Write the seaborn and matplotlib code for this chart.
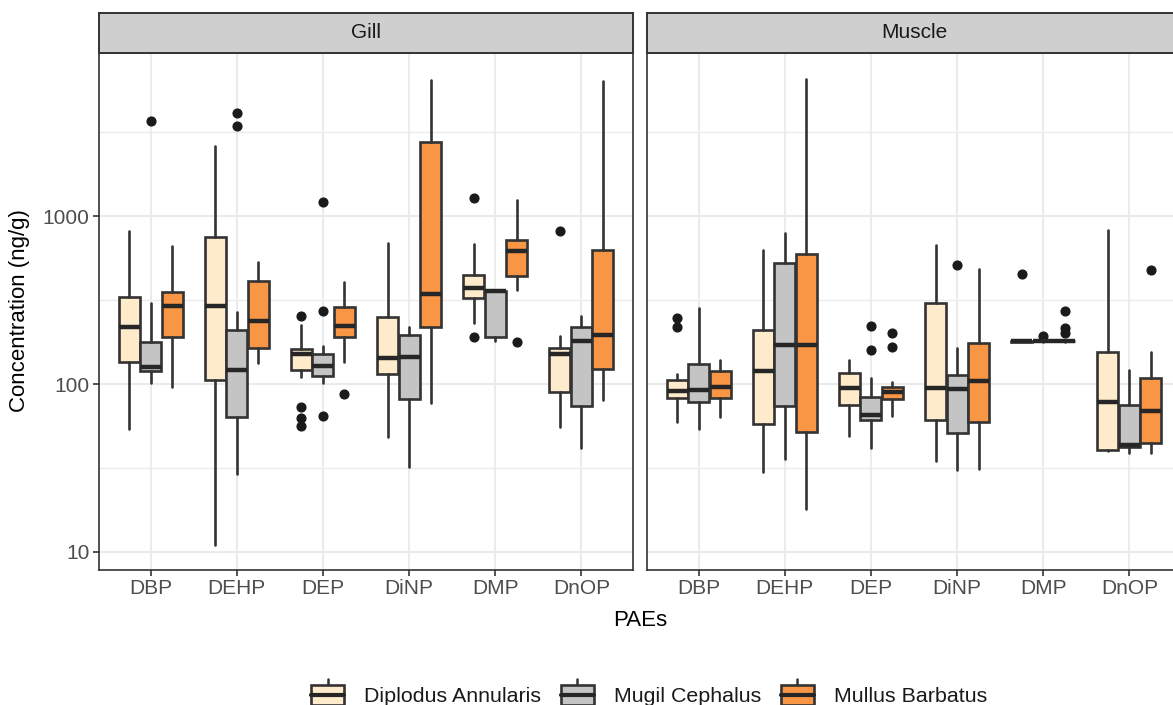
import matplotlib
matplotlib.use("Agg")
import numpy as np
import pandas as pd
import seaborn as sns
import matplotlib.pyplot as plt
from matplotlib.patches import Rectangle
from matplotlib.lines import Line2D
from matplotlib.legend_handler import HandlerBase
from matplotlib.ticker import FixedLocator, NullFormatter

# ---------------- data ----------------
tissues = ["Gill", "Muscle"]
paes = ["DBP", "DEHP", "DEP", "DiNP", "DMP", "DnOP"]
species = ["Diplodus Annularis", "Mugil Cephalus", "Mullus Barbatus"]
species_colors = ["#FEEBCB", "#C4C4C4", "#F99646"]

# order of each list follows `paes`
# ---- Gill ----
gill_diplodus_lo = [54, 10.9, 110.6, 48, 230, 55.6]
gill_diplodus_q1 = [135, 105.6, 121, 114.7, 324, 90]
gill_diplodus_med = [220, 293, 150, 143, 375, 151]
gill_diplodus_q3 = [332, 753, 161, 252, 445, 164.6]
gill_diplodus_hi = [817, 2636, 225, 690, 684, 193]
gill_diplodus_out = [[], [], [255, 73.2, 63, 56.4], [], [1291, 191], [820]]

gill_mugil_lo = [101, 29, 101, 32.1, 181, 41.7]
gill_mugil_q1 = [119.5, 63.8, 111.6, 81.4, 190, 74]
gill_mugil_med = [126, 122, 128, 144, 357, 180]
gill_mugil_q3 = [178, 210, 151.6, 195, 359, 220]
gill_mugil_hi = [305, 270, 168.5, 218, 359, 255]
gill_mugil_out = [[3715], [4115, 3468], [273.5, 1212, 64.7], [], [], []]

gill_mullus_lo = [96, 134, 136, 76.7, 364, 80]
gill_mullus_q1 = [190, 164.6, 190, 218, 440, 123]
gill_mullus_med = [292, 237.5, 222, 343, 618, 195]
gill_mullus_q3 = [352, 411, 287, 2773, 722, 627]
gill_mullus_hi = [668, 534, 404, 6500, 1250, 6440]
gill_mullus_out = [[], [], [86.8], [], [179], []]

# ---- Muscle ----
muscle_diplodus_lo = [59.1, 29.7, 49.2, 34.9, 178.5, 40]
muscle_diplodus_q1 = [82.2, 57.7, 75, 61, 179, 40.4]
muscle_diplodus_med = [90.8, 120, 95, 95, 180, 77.8]
muscle_diplodus_q3 = [105.6, 210, 115.8, 303, 180.5, 154.5]
muscle_diplodus_hi = [114.7, 627, 139, 674, 181, 825]
muscle_diplodus_out = [[246.5, 220], [], [], [], [451], []]

muscle_mugil_lo = [54, 35.7, 41.7, 30.7, 179, 38.6]
muscle_mugil_q1 = [77.8, 74.2, 61, 51.3, 179.5, 42.3]
muscle_mugil_med = [92, 170, 65.5, 93, 180, 43.3]
muscle_mugil_q3 = [131.6, 529, 83.3, 113, 180.5, 75]
muscle_mugil_hi = [285, 795, 109, 164.6, 181, 121]
muscle_mugil_out = [[], [], [222.6, 159.5], [513], [193], []]

muscle_mullus_lo = [63.8, 17.9, 64.7, 31, 179, 38.6]
muscle_mullus_q1 = [82, 51.5, 81.4, 59.6, 179.5, 44.3]
muscle_mullus_med = [95.5, 170, 90, 104.7, 180, 69.3]
muscle_mullus_q3 = [120, 596, 96.4, 175, 180.5, 109]
muscle_mullus_hi = [139, 6620, 103, 483, 181, 154.5]
muscle_mullus_out = [[], [], [202, 167], [], [273.5, 215, 202], [478.6]]

box_data = {
    ("Gill", species[0]): (gill_diplodus_lo, gill_diplodus_q1, gill_diplodus_med, gill_diplodus_q3, gill_diplodus_hi, gill_diplodus_out),
    ("Gill", species[1]): (gill_mugil_lo, gill_mugil_q1, gill_mugil_med, gill_mugil_q3, gill_mugil_hi, gill_mugil_out),
    ("Gill", species[2]): (gill_mullus_lo, gill_mullus_q1, gill_mullus_med, gill_mullus_q3, gill_mullus_hi, gill_mullus_out),
    ("Muscle", species[0]): (muscle_diplodus_lo, muscle_diplodus_q1, muscle_diplodus_med, muscle_diplodus_q3, muscle_diplodus_hi, muscle_diplodus_out),
    ("Muscle", species[1]): (muscle_mugil_lo, muscle_mugil_q1, muscle_mugil_med, muscle_mugil_q3, muscle_mugil_hi, muscle_mugil_out),
    ("Muscle", species[2]): (muscle_mullus_lo, muscle_mullus_q1, muscle_mullus_med, muscle_mullus_q3, muscle_mullus_hi, muscle_mullus_out),
}

# ---------------- style ----------------
sns.set_theme(style="whitegrid")
plt.rcParams["font.family"] = ["Liberation Sans", "DejaVu Sans"]

W, H = 1173, 705
fig = plt.figure(figsize=(W / 100, H / 100), dpi=100)
fig.patch.set_facecolor("white")

EDGE = "#333333"
panel_top, panel_bot = 53, 569.5
strip_top = 13
panel_lefts = [99, 647]
panel_w = 534

dodge = 0.75
n_sp = len(species)
bw = dodge / n_sp

for t_i, tissue in enumerate(tissues):
    left = panel_lefts[t_i]
    ax = fig.add_axes([left / W, 1 - panel_bot / H, panel_w / W, (panel_bot - panel_top) / H])
    ax.set_facecolor("white")
    ax.set_yscale("log")
    for s_i, sp in enumerate(species):
        lo, q1, med, q3, hi, out = box_data[(tissue, sp)]
        stats = []
        for k in range(len(paes)):
            stats.append(dict(whislo=lo[k], q1=q1[k], med=med[k], q3=q3[k], whishi=hi[k], fliers=out[k]))
        pos = np.arange(len(paes)) + (s_i - (n_sp - 1) / 2) * bw
        ax.bxp(stats, positions=pos, widths=bw * 0.97, patch_artist=True, showcaps=False,
               boxprops=dict(facecolor=species_colors[s_i], edgecolor=EDGE, linewidth=1.9),
               medianprops=dict(color="#262626", linewidth=3.2, solid_capstyle="butt"),
               whiskerprops=dict(color=EDGE, linewidth=1.9),
               flierprops=dict(marker="o", markerfacecolor="#1a1a1a", markeredgecolor="#1a1a1a",
                               markersize=6.3, linestyle="none"),
               manage_ticks=False, zorder=3)
    ax.set_xlim(-0.6, len(paes) - 0.4)
    ax.set_ylim(7.83, 9420)
    ax.set_xticks(np.arange(len(paes)))
    ax.set_xticklabels(paes)
    ax.yaxis.set_major_locator(FixedLocator([10, 100, 1000]))
    ax.yaxis.set_minor_locator(FixedLocator([10 ** 1.5, 10 ** 2.5, 10 ** 3.5]))
    ax.yaxis.set_minor_formatter(NullFormatter())
    ax.set_yticklabels(["10", "100", "1000"])
    ax.grid(True, which="major", color="#EBEBEB", linewidth=1.5, zorder=0)
    ax.grid(True, which="minor", axis="y", color="#EBEBEB", linewidth=1.0, zorder=0)
    ax.set_axisbelow(True)
    ax.tick_params(axis="both", which="major", length=4, width=1.2, color=EDGE,
                   labelcolor="#4D4D4D", labelsize=15, pad=3, direction="out")
    ax.tick_params(axis="y", which="minor", length=0)
    ax.tick_params(axis="x", bottom=True)
    ax.tick_params(axis="y", left=True)
    if t_i == 1:
        ax.tick_params(axis="y", which="both", left=False, labelleft=False)
    for sp_ in ax.spines.values():
        sp_.set_visible(True)
        sp_.set_color(EDGE)
        sp_.set_linewidth(1.2)
    ax.set_xlabel("")
    ax.set_ylabel("")

    # strip
    sax = fig.add_axes([left / W, 1 - panel_top / H, panel_w / W, (panel_top - strip_top) / H])
    sax.set_facecolor("#CFCFCF")
    sax.set_xticks([])
    sax.set_yticks([])
    sax.grid(False)
    for sp_ in sax.spines.values():
        sp_.set_visible(True)
        sp_.set_color(EDGE)
        sp_.set_linewidth(1.4)
    sax.text(0.5, 0.5, tissue, transform=sax.transAxes, ha="center", va="center",
             fontsize=15, color="#1A1A1A")

fig.text(19.5 / W, 1 - 311 / H, "Concentration (ng/g)", rotation=90, ha="center", va="center",
         fontsize=16, color="black")
fig.text(640 / W, 1 - 620 / H, "PAEs", ha="center", va="center", fontsize=16, color="black")


class BoxKey(HandlerBase):
    def create_artists(self, legend, orig, xd, yd, w, h, fs, trans):
        x0, y0 = -xd, -yd
        b0, b1 = 0.19, 0.81
        wt = Line2D([x0 + w / 2] * 2, [y0 + b1 * h, y0 + h], color=EDGE, lw=1.8, transform=trans)
        wb = Line2D([x0 + w / 2] * 2, [y0, y0 + b0 * h], color=EDGE, lw=1.8, transform=trans)
        box = Rectangle((x0, y0 + b0 * h), w, (b1 - b0) * h, facecolor=orig.get_facecolor(),
                        edgecolor=EDGE, lw=1.9, transform=trans)
        med = Line2D([x0, x0 + w], [y0 + 0.5 * h] * 2, color="#262626", lw=3.0, transform=trans)
        return [wt, wb, box, med]


handles = [Rectangle((0, 0), 1, 1, facecolor=c) for c in species_colors]
leg = fig.legend(handles, species, handler_map={Rectangle: BoxKey()}, loc="center",
                 bbox_to_anchor=(649 / W, 1 - 695 / H), ncol=3, frameon=False,
                 fontsize=15.4, handlelength=1.54, handleheight=1.96, handletextpad=0.93,
                 columnspacing=0.93, borderpad=0, labelcolor="#1A1A1A")

fig.savefig("out.png", dpi=100, facecolor="white")
